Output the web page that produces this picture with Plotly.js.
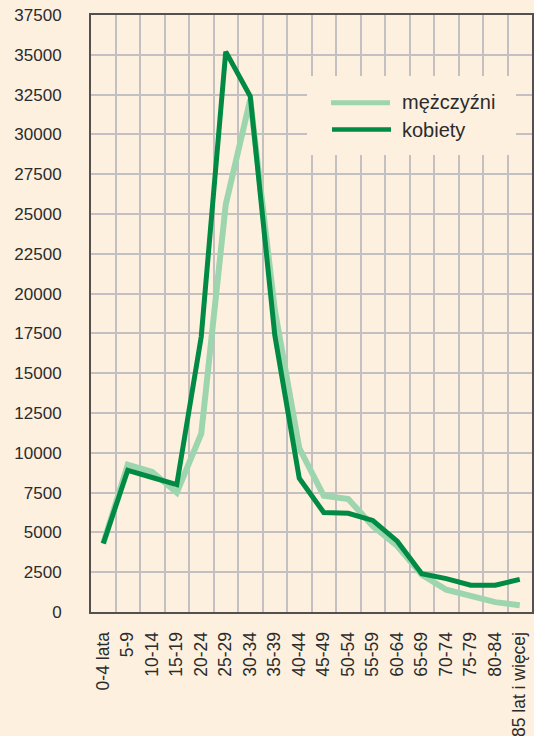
<!DOCTYPE html>
<html>
<head>
<meta charset="utf-8">
<script src="https://cdn.plot.ly/plotly-3.0.1.min.js"></script>
<style>
  html, body { margin: 0; padding: 0; background: #fdf0df; }
  #chart { width: 534px; height: 736px; }
</style>
</head>
<body>
<div id="chart"></div>
<script>
const categories = ['0-4 lata', '5-9', '10-14', '15-19', '20-24', '25-29', '30-34', '35-39', '40-44',
  '45-49', '50-54', '55-59', '60-64', '65-69', '70-74', '75-79', '80-84', '85 lat i więcej'];
const mezczyzni = [4300, 9250, 8800, 7500, 11200, 25600, 32200, 19000, 10300,
  7300, 7100, 5400, 4150, 2350, 1400, 1050, 620, 420];
const kobiety = [4300, 8900, 8450, 8000, 17300, 35200, 32400, 17400, 8400,
  6250, 6200, 5750, 4450, 2400, 2100, 1680, 1680, 2050];
const seriesNames = ['mężczyźni', 'kobiety'];
const yTicks = [0, 2500, 5000, 7500, 10000, 12500, 15000, 17500, 20000, 22500, 25000, 27500, 30000, 32500, 35000, 37500];

const BG = '#fdf0df';
const LIGHT = '#9dd5ae';
const DARK = '#008a43';
const FONT = 'Liberation Sans, Arial, sans-serif';

const traces = [
  { x: categories, y: mezczyzni, name: seriesNames[0], type: 'scatter', mode: 'lines',
    line: { color: LIGHT, width: 6 }, showlegend: false },
  { x: categories, y: kobiety, name: seriesNames[1], type: 'scatter', mode: 'lines',
    line: { color: DARK, width: 5 }, showlegend: false }
];

// legend geometry (paper coords)
const L = { x0: 0.4898, x1: 0.9637, y0: 0.7655, y1: 0.8978 };
const layout = {
  width: 534, height: 736,
  margin: { l: 91, r: 2, t: 15, b: 124 },
  paper_bgcolor: BG, plot_bgcolor: BG,
  font: { family: FONT, color: '#2b2b2b', size: 17 },
  showlegend: false,
  xaxis: {
    type: 'category', range: [-0.5, 17.5], tickson: 'boundaries',
    showgrid: true, gridcolor: '#c2c0c0', gridwidth: 2,
    showline: true, linecolor: '#555050', linewidth: 2, mirror: true,
    ticks: '', tickangle: -90, ticklabelstandoff: 11,
    tickfont: { size: 17.5, family: FONT, color: '#2b2b2b' }, fixedrange: true
  },
  yaxis: {
    range: [0, 37500], tickvals: yTicks, ticktext: yTicks.map(String),
    showgrid: true, gridcolor: '#c2c0c0', gridwidth: 2, zeroline: false,
    showline: true, linecolor: '#555050', linewidth: 2, mirror: true,
    ticks: '', ticklabelstandoff: 24,
    tickfont: { size: 17, family: FONT, color: '#2b2b2b' }, fixedrange: true
  },
  shapes: [
    { type: 'rect', xref: 'paper', yref: 'paper', x0: L.x0, x1: L.x1, y0: L.y0, y1: L.y1,
      fillcolor: BG, line: { width: 0 }, layer: 'above' },
    { type: 'line', xref: 'paper', yref: 'paper', x0: 0.5442, x1: 0.678, y0: 0.8531, y1: 0.8531,
      line: { color: LIGHT, width: 5 }, layer: 'above' },
    { type: 'line', xref: 'paper', yref: 'paper', x0: 0.5465, x1: 0.6803, y0: 0.8082, y1: 0.8082,
      line: { color: DARK, width: 4.5 }, layer: 'above' }
  ],
  annotations: [
    { xref: 'paper', yref: 'paper', x: 0.7007, y: 0.8543, xanchor: 'left', yanchor: 'middle',
      text: seriesNames[0], showarrow: false, font: { size: 20, family: FONT, color: '#2b2b2b' } },
    { xref: 'paper', yref: 'paper', x: 0.7007, y: 0.8074, xanchor: 'left', yanchor: 'middle',
      text: seriesNames[1], showarrow: false, font: { size: 20, family: FONT, color: '#2b2b2b' } }
  ]
};

Plotly.newPlot('chart', traces, layout, { displayModeBar: false, staticPlot: true });
</script>
</body>
</html>
